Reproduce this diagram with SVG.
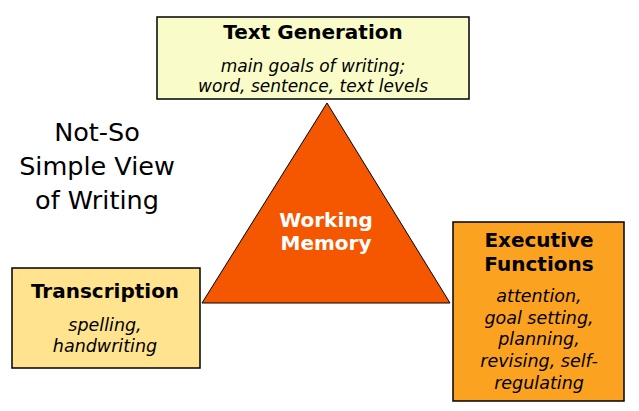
<svg xmlns="http://www.w3.org/2000/svg" width="639" height="411" viewBox="0 0 639 411">
<style>
.box{stroke:#000;stroke-width:1.5}
.t{font-family:"DejaVu Sans",Verdana,sans-serif;text-anchor:middle;fill:#000}
.h{font-weight:bold;font-size:20px}
.i{font-style:italic;font-size:17.5px}
.i2{font-style:italic;font-size:17px}
.w{font-weight:bold;font-size:20px;fill:#fff}
.title{font-size:25.5px}
</style>
<rect width="639" height="411" fill="#fff"/>
<g id="title">
<text class="t title" x="97" y="141">Not-So</text>
<text class="t title" x="97" y="175">Simple View</text>
<text class="t title" x="97" y="209">of Writing</text>
</g>
<g id="connectors"></g>
<g id="text-generation">
<rect class="box" x="157" y="17" width="312" height="82" fill="#F9FCC8"/>
<text class="t h" x="313" y="39">Text Generation</text>
<text class="t i2" x="313" y="72">main goals of writing;</text>
<text class="t i2" x="313" y="92">word, sentence, text levels</text>
</g>
<g id="working-memory">
<polygon points="327,103 202,303 450,303" fill="#F55600" stroke="#000" stroke-width="1"/>
<text class="t w" x="326" y="227">Working</text>
<text class="t w" x="326" y="250">Memory</text>
</g>
<g id="transcription">
<rect class="box" x="12" y="268" width="188" height="100" fill="#FFE38E"/>
<text class="t h" x="105" y="298">Transcription</text>
<text class="t i" x="105" y="331">spelling,</text>
<text class="t i" x="105" y="352">handwriting</text>
</g>
<g id="executive-functions">
<rect class="box" x="453" y="222" width="171" height="179" fill="#FBA320"/>
<text class="t h" x="539" y="247">Executive</text>
<text class="t h" x="539" y="271">Functions</text>
<text class="t i" x="539" y="302">attention,</text>
<text class="t i" x="539" y="324">goal setting,</text>
<text class="t i" x="539" y="345">planning,</text>
<text class="t i" x="539" y="367">revising, self-</text>
<text class="t i" x="539" y="389">regulating</text>
</g>
</svg>
